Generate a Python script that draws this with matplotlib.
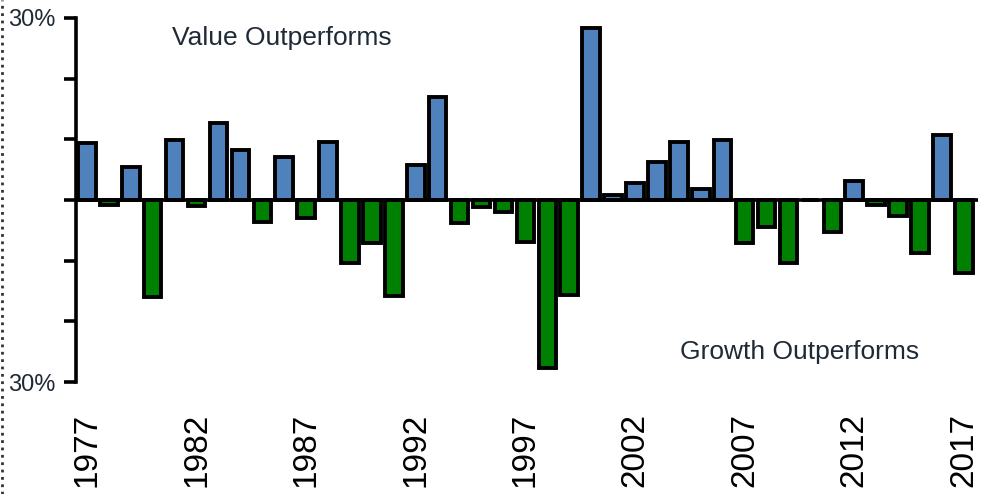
import matplotlib
matplotlib.use("Agg")
import matplotlib.pyplot as plt
from matplotlib.lines import Line2D
import numpy as np

plt.rcParams['font.family'] = ['Liberation Sans', 'DejaVu Sans']

years = list(range(1977, 2018))
# value minus growth return, %
spread = [9.4, -0.8, 5.4, -16.0, 9.9, -1.0, 12.7, 8.2, -3.6, 7.1,
          -3.0, 9.6, -10.4, -7.1, -15.8, 5.7, 17.0, -3.8, -1.2, -2.0,
          -6.9, -27.7, -15.7, 28.3, 0.9, 2.8, 6.3, 9.6, 1.8, 9.9,
          -7.1, -4.4, -10.4, 0.0, -5.2, 3.1, -0.8, -2.7, -8.8, 10.7,
          -12.0]
label_years = [1977, 1982, 1987, 1992, 1997, 2002, 2007, 2012, 2017]

blue = '#4F81BD'
green = '#008000'
text_col = '#1F2A36'

fig = plt.figure(figsize=(9.86, 4.94), dpi=100)
ax = fig.add_axes([0.077, 0.2267, 0.915, 0.7369])

x = np.arange(len(years))
vals = np.array(spread)
colors = [blue if v >= 0 else green for v in vals]
ax.bar(x, vals, width=0.8, color=colors, edgecolor='black', linewidth=2.8, zorder=2)
ax.axhline(0, color='black', linewidth=2.6, zorder=3)

ax.set_xlim(-0.5, len(years) - 0.35)
ax.set_ylim(-30, 30)

ax.set_yticks([-30, -20, -10, 0, 10, 20, 30])
ax.set_yticklabels(['30%', '', '', '', '', '', '30%'], fontsize=17, color=text_col)
ax.tick_params(axis='y', direction='out', length=9, width=2.6, pad=6)

ax.set_xticks([years.index(y) for y in label_years])
ax.set_xticklabels([str(y) for y in label_years], rotation=90, fontsize=24)
ax.tick_params(axis='x', length=0, pad=22)

for s in ['top', 'right', 'bottom']:
    ax.spines[s].set_visible(False)
ax.spines['left'].set_linewidth(2.6)

ax.text(0.106, 0.945, 'Value Outperforms', transform=ax.transAxes,
        fontsize=19, color=text_col, ha='left', va='center')
ax.text(0.670, 0.082, 'Growth Outperforms', transform=ax.transAxes,
        fontsize=19, color=text_col, ha='left', va='center')

# thin dotted border on the left edge
fig.add_artist(Line2D([0.002, 0.002], [0, 1], transform=fig.transFigure,
                      color='#333333', linewidth=2, linestyle=':'))

fig.savefig('out.png', dpi=100)
